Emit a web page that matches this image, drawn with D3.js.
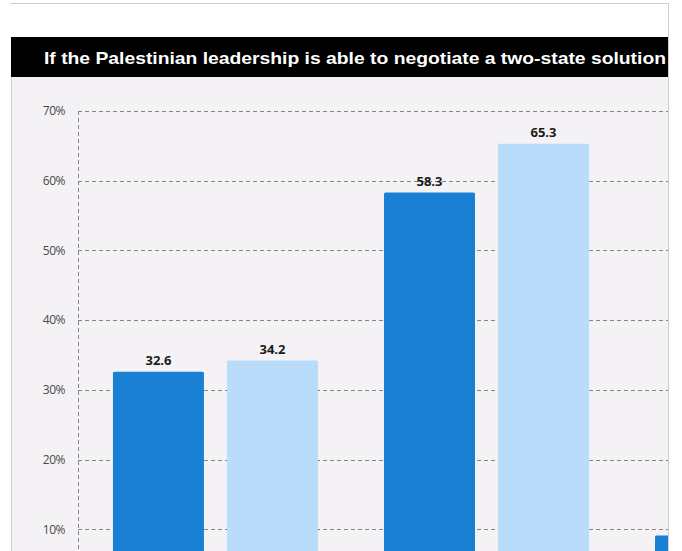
<!DOCTYPE html>
<html>
<head>
<meta charset="utf-8">
<script src="https://cdn.jsdelivr.net/npm/d3@7"></script>
<style>
  html, body { margin: 0; padding: 0; background: #ffffff; }
  svg { display: block; }
</style>
</head>
<body>
<svg id="chart" width="682" height="551"></svg>
<script>
// ---- data ----
const title = "If the Palestinian leadership is able to negotiate a two-state solution";
const categories = ["Support", "Oppose", "Don't know"];
const seriesNames = ["Survey 1", "Survey 2"];
const series1 = [32.6, 58.3, 9.1];
const series2 = [34.2, 65.3, 0.5];
const yTicks = [10, 20, 30, 40, 50, 60, 70];
const seriesColors = ["#1a80d4", "#b9dcfa"];

// ---- layout ----
const svg = d3.select("#chart");
const W = 682, H = 551;
const frameL = 11, frameR = 668, frameT = 3;
const titleTop = 37, titleBottom = 77;
const axisX = 78;

svg.append("rect").attr("x", frameL).attr("y", titleBottom)
  .attr("width", frameR - frameL).attr("height", H - titleBottom)
  .attr("fill", "#f4f2f5");
svg.append("rect").attr("x", frameL).attr("y", titleTop)
  .attr("width", frameR - frameL).attr("height", titleBottom - titleTop)
  .attr("fill", "#000000");

const defs = svg.append("defs");
defs.append("clipPath").attr("id", "titleClip").append("rect")
  .attr("x", frameL).attr("y", titleTop).attr("width", frameR - frameL).attr("height", titleBottom - titleTop);
defs.append("clipPath").attr("id", "plotClip").append("rect")
  .attr("x", frameL).attr("y", titleBottom).attr("width", frameR - frameL).attr("height", H - titleBottom);

svg.append("g").attr("clip-path", "url(#titleClip)")
  .append("text")
  .attr("x", 44).attr("y", 64)
  .attr("fill", "#ffffff")
  .attr("font-family", "'Liberation Sans', Arial, sans-serif")
  .attr("font-weight", "bold")
  .attr("font-size", 17)
  .attr("textLength", 622)
  .attr("lengthAdjust", "spacingAndGlyphs")
  .text(title);

// scales
const y = d3.scaleLinear().domain([0, 70]).range([599, 111]);
const x0 = d3.scaleBand().domain(categories).range([axisX, 895])
  .paddingInner(0.2435).paddingOuter(0.129);
const x1 = d3.scaleBand().domain(seriesNames).range([0, x0.bandwidth()])
  .paddingInner(0.2018).paddingOuter(0);

const plot = svg.append("g").attr("clip-path", "url(#plotClip)");

// gridlines
plot.append("g").selectAll("line").data(yTicks).join("line")
  .attr("x1", axisX).attr("x2", frameR)
  .attr("y1", d => Math.round(y(d)) + 0.5).attr("y2", d => Math.round(y(d)) + 0.5)
  .attr("stroke", "#858585").attr("stroke-width", 1)
  .attr("stroke-dasharray", "4,3");

// y axis (dashed vertical)
plot.append("line")
  .attr("x1", axisX + 0.5).attr("x2", axisX + 0.5)
  .attr("y1", y(70)).attr("y2", H)
  .attr("stroke", "#858585").attr("stroke-width", 1)
  .attr("stroke-dasharray", "4,3");

// tick labels via axis
const yAxis = d3.axisLeft(y).tickValues(yTicks).tickFormat(d => d + "%").tickSize(0).tickPadding(13);
const ya = plot.append("g").attr("transform", `translate(${axisX},0)`).call(yAxis);
ya.select(".domain").remove();
ya.selectAll("text")
  .attr("font-family", "'Open Sans', sans-serif")
  .attr("font-size", 12)
  .attr("letter-spacing", "-0.5")
  .attr("fill", "#4a4a4a");

// bars
const rows = categories.map((c, i) => ({ cat: c, vals: [series1[i], series2[i]] }));
const groups = plot.append("g").selectAll("g").data(rows).join("g")
  .attr("transform", d => `translate(${x0(d.cat)},0)`);

const barData = d => d.vals.map((v, j) => ({ cat: d.cat, s: seriesNames[j], v, j }));

groups.selectAll("rect").data(barData)
  .join("rect")
  .attr("x", d => x1(d.s))
  .attr("y", d => y(d.v))
  .attr("width", x1.bandwidth())
  .attr("height", d => y(0) - y(d.v))
  .attr("rx", 1.5)
  .attr("fill", d => seriesColors[d.j]);

// value labels (only those whose bar centre lies inside the visible frame)
groups.selectAll("text.val")
  .data(d => barData(d).filter(b => x0(b.cat) + x1(b.s) + x1.bandwidth() / 2 < frameR - 20))
  .join("text")
  .attr("class", "val")
  .attr("x", d => x1(d.s) + x1.bandwidth() / 2)
  .attr("y", d => y(d.v) - 7)
  .attr("text-anchor", "middle")
  .attr("font-family", "'Open Sans', sans-serif")
  .attr("font-weight", "bold")
  .attr("font-size", 13)
  .attr("fill", "#1a1a1a")
  .text(d => d.v.toFixed(1));

// frame lines
svg.append("line").attr("x1", frameL - 1).attr("x2", frameR).attr("y1", frameT + 0.5).attr("y2", frameT + 0.5)
  .attr("stroke", "#cfcfcf");
svg.append("line").attr("x1", frameR + 0.5).attr("x2", frameR + 0.5).attr("y1", frameT).attr("y2", H)
  .attr("stroke", "#cfcfcf");
svg.append("line").attr("x1", frameL + 0.5).attr("x2", frameL + 0.5).attr("y1", titleBottom).attr("y2", H)
  .attr("stroke", "#cfcfcf");
</script>
</body>
</html>
